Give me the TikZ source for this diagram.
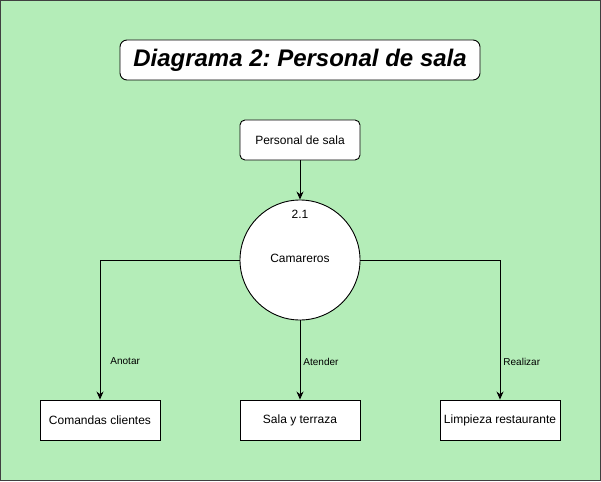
\documentclass[tikz,border=0pt]{standalone}
\usepackage{fontspec}
\setmainfont{Liberation Sans}
\usetikzlibrary{arrows.meta,positioning}
\definecolor{fondo}{RGB}{180,237,184}
\frenchspacing

\begin{document}
\begin{tikzpicture}[x=1pt,y=-1pt,line width=0.9pt,>={Stealth[length=8pt,width=7pt]},
  caja/.style={draw,fill=white,minimum width=120pt,minimum height=40pt,inner sep=0pt,
    font=\fontsize{12}{14}\selectfont},
  redonda/.style={caja,rounded corners=5pt},
  etiq/.style={anchor=west,inner sep=0pt,font=\fontsize{10}{12}\selectfont}]
% ---------- fondo ----------
\fill[fondo,draw=black!75,line width=0.7pt] (0.5,0.5) rectangle (600.5,480.5);
\useasboundingbox (0,0) rectangle (601,481);
% ---------- titulo ----------
\node[redonda,minimum width=360pt,rounded corners=7pt,
  font=\fontsize{24}{28}\selectfont\bfseries\itshape] (titulo) at (300,60) {Diagrama 2: Personal de sala};
% ---------- entidad y proceso ----------
\node[redonda] (personal) at (300,140) {Personal de sala};
\node[draw,fill=white,circle,minimum size=120pt,inner sep=0pt] (camareros) at (300,260) {};
\node[font=\fontsize{12}{14}\selectfont] (numero) at (300,214) {2.1};
\node[font=\fontsize{12}{14}\selectfont] (nombre) at (300,258) {Camareros};
% ---------- almacenes ----------
\node[caja] (comandas) at (100,420) {Comandas clientes};
\node[caja] (sala) at (300,420) {Sala y terraza};
\node[caja] (limpieza) at (500,420) {Limpieza restaurante};
% ---------- flujos ----------
\draw[->] (personal) -- (camareros);
\draw[->] (camareros.west) -| node[etiq,pos=0.864,xshift=10pt] {Anotar} (comandas.north);
\draw[->] (camareros) -- node[etiq,pos=0.525,xshift=3pt] {Atender} (sala);
\draw[->] (camareros.east) -| node[etiq,pos=0.864,xshift=3pt] {Realizar} (limpieza.north);
\end{tikzpicture}
\end{document}
